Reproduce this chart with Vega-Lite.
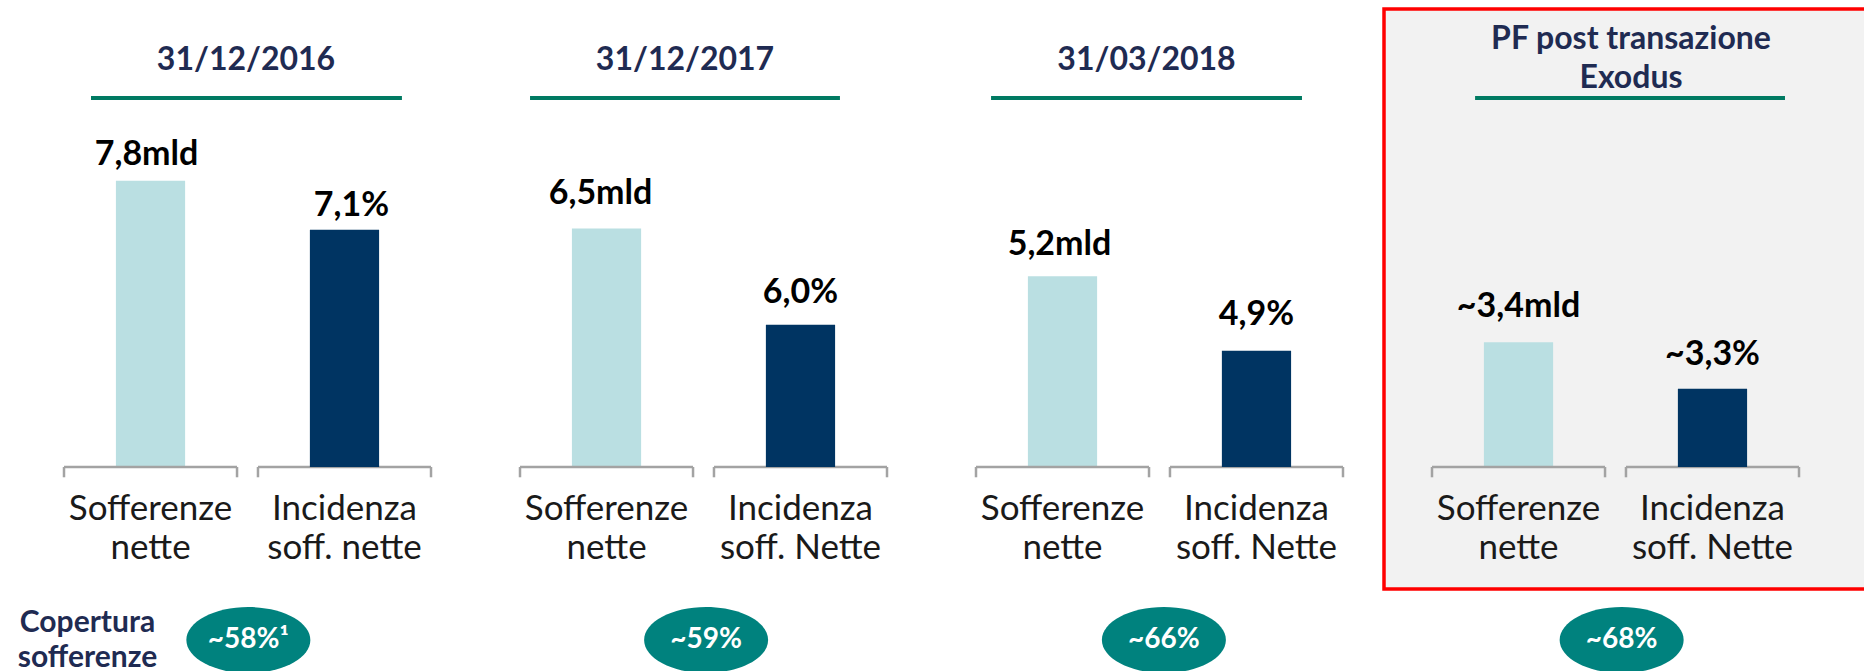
{
  "$schema": "https://vega.github.io/schema/vega-lite/v6.json",
  "background": "white",
  "padding": {"left": 15, "top": 7, "right": -4, "bottom": 0},
  "config": {
    "view": {"stroke": null},
    "font": "Lato",
    "concat": {"spacing": 0},
    "axisX": {"domain": false, "ticks": false, "tickSize": 0, "grid": false, "labelAngle": 0, "labelFont": "Lato", "labelFontSize": 35, "labelColor": "#1A1A1A", "labelExpr": "split(datum.label, '|')", "labelLineHeight": 39, "labelBaseline": "top", "labelPadding": 24, "labelLimit": 400, "offset": -122},
    "title": {"font": "Lato", "fontSize": 32, "fontWeight": "bold", "color": "#1F2B52", "anchor": "middle", "frame": "group", "baseline": "middle", "offset": -68, "lineHeight": 39}
  },
  "datasets": {
    "bars": [
      {"panel": "2016", "cat": "Sofferenze|nette", "m": "S", "value": 7.8, "label": "7,8mld"},
      {"panel": "2016", "cat": "Incidenza|soff. nette", "m": "I", "value": 7.1, "label": "7,1%"},
      {"panel": "2017", "cat": "Sofferenze|nette", "m": "S", "value": 6.5, "label": "6,5mld"},
      {"panel": "2017", "cat": "Incidenza|soff. Nette", "m": "I", "value": 6.0, "label": "6,0%"},
      {"panel": "2018", "cat": "Sofferenze|nette", "m": "S", "value": 5.2, "label": "5,2mld"},
      {"panel": "2018", "cat": "Incidenza|soff. Nette", "m": "I", "value": 4.9, "label": "4,9%"},
      {"panel": "PF", "cat": "Sofferenze|nette", "m": "S", "value": 3.4, "label": "~3,4mld"},
      {"panel": "PF", "cat": "Incidenza|soff. Nette", "m": "I", "value": 3.3, "label": "~3,3%"}
    ],
    "cov": [
      {"panel": "2016", "value": 58, "label": "~58%¹"},
      {"panel": "2017", "value": 59, "label": "~59%"},
      {"panel": "2018", "value": 66, "label": "~66%"},
      {"panel": "PF", "value": 68, "label": "~68%"}
    ]
  },
  "bounds": "full",
  "spacing": 15,
  "vconcat": [
    {
      "bounds": "flush",
      "spacing": 0,
      "hconcat": [
        {
          "width": 456, "height": 580,
          "title": {"text": "31/12/2016", "dx": 3},
          "data": {"name": "bars"},
          "transform": [{"filter": "datum.panel == '2016'"}],
          "encoding": {
            "x": {"field": "cat", "type": "nominal", "title": null,
              "scale": {"domain": ["Sofferenze|nette", "Incidenza|soff. nette"], "paddingInner": 0.108, "paddingOuter": 0.2294, "align": 0.5506}}
          },
          "layer": [
            {"layer": [
              {"transform": [{"filter": "datum.m == 'S'"}], "mark": {"type": "bar", "color": "#BADFE2", "width": {"band": 0.4}},
               "encoding": {"y": {"field": "value", "type": "quantitative", "axis": null, "scale": {"domain": [-3.324, 12.48], "nice": false, "zero": false}}, "y2": {"datum": 0}}},
              {"transform": [{"filter": "datum.m == 'S'"}], "mark": {"type": "text", "baseline": "alphabetic", "dy": -16, "dx": -4, "font": "Lato", "fontSize": 34, "fontWeight": "bold", "color": "#000000"},
               "encoding": {"y": {"field": "value", "type": "quantitative", "axis": null}, "text": {"field": "label"}}},
              {"mark": {"type": "rule", "color": "#A3A3A3", "strokeWidth": 2.5},
               "encoding": {"x": {"field": "cat", "type": "nominal", "bandPosition": 0, "title": null}, "x2": {"field": "cat", "bandPosition": 1, "title": null}, "y": {"datum": 0, "axis": null}}},
              {"mark": {"type": "rule", "color": "#A3A3A3", "strokeWidth": 2.5},
               "encoding": {"x": {"field": "cat", "type": "nominal", "bandPosition": 0, "title": null}, "y": {"datum": 0, "axis": null}, "y2": {"datum": -0.28}}},
              {"mark": {"type": "rule", "color": "#A3A3A3", "strokeWidth": 2.5},
               "encoding": {"x": {"field": "cat", "type": "nominal", "bandPosition": 1, "title": null}, "y": {"datum": 0, "axis": null}, "y2": {"datum": -0.28}}},
              {"transform": [{"aggregate": [{"op": "max", "field": "cat", "as": "a"}, {"op": "min", "field": "cat", "as": "b"}]}],
               "mark": {"type": "rule", "color": "#007A62", "strokeWidth": 4},
               "encoding": {"x": {"field": "a", "type": "nominal", "bandPosition": 0.156, "title": null}, "x2": {"field": "b", "bandPosition": 0.832, "title": null}, "y": {"datum": 10.054, "axis": null}}}
            ]},
            {"layer": [
              {"transform": [{"filter": "datum.m == 'I'"}], "mark": {"type": "bar", "color": "#003462", "width": {"band": 0.4}},
               "encoding": {"y": {"field": "value", "type": "quantitative", "axis": null, "scale": {"domain": [-3.653, 13.713], "nice": false, "zero": false}}, "y2": {"datum": 0}}},
              {"transform": [{"filter": "datum.m == 'I'"}], "mark": {"type": "text", "baseline": "alphabetic", "dy": -14, "dx": 7, "font": "Lato", "fontSize": 34, "fontWeight": "bold", "color": "#000000"},
               "encoding": {"y": {"field": "value", "type": "quantitative", "axis": null}, "text": {"field": "label"}}}
            ]}
          ],
          "resolve": {"scale": {"y": "independent"}}
        },
        {
          "width": 456, "height": 580,
          "title": {"text": "31/12/2017", "dx": -14},
          "data": {"name": "bars"},
          "transform": [{"filter": "datum.panel == '2017'"}],
          "encoding": {
            "x": {"field": "cat", "type": "nominal", "title": null,
              "scale": {"domain": ["Sofferenze|nette", "Incidenza|soff. Nette"], "paddingInner": 0.108, "paddingOuter": 0.2294, "align": 0.5506}}
          },
          "layer": [
            {"layer": [
              {"transform": [{"filter": "datum.m == 'S'"}], "mark": {"type": "bar", "color": "#BADFE2", "width": {"band": 0.4}},
               "encoding": {"y": {"field": "value", "type": "quantitative", "axis": null, "scale": {"domain": [-3.324, 12.48], "nice": false, "zero": false}}, "y2": {"datum": 0}}},
              {"transform": [{"filter": "datum.m == 'S'"}], "mark": {"type": "text", "baseline": "alphabetic", "dy": -24, "dx": -6, "font": "Lato", "fontSize": 34, "fontWeight": "bold", "color": "#000000"},
               "encoding": {"y": {"field": "value", "type": "quantitative", "axis": null}, "text": {"field": "label"}}},
              {"mark": {"type": "rule", "color": "#A3A3A3", "strokeWidth": 2.5},
               "encoding": {"x": {"field": "cat", "type": "nominal", "bandPosition": 0, "title": null}, "x2": {"field": "cat", "bandPosition": 1, "title": null}, "y": {"datum": 0, "axis": null}}},
              {"mark": {"type": "rule", "color": "#A3A3A3", "strokeWidth": 2.5},
               "encoding": {"x": {"field": "cat", "type": "nominal", "bandPosition": 0, "title": null}, "y": {"datum": 0, "axis": null}, "y2": {"datum": -0.28}}},
              {"mark": {"type": "rule", "color": "#A3A3A3", "strokeWidth": 2.5},
               "encoding": {"x": {"field": "cat", "type": "nominal", "bandPosition": 1, "title": null}, "y": {"datum": 0, "axis": null}, "y2": {"datum": -0.28}}},
              {"transform": [{"aggregate": [{"op": "max", "field": "cat", "as": "a"}, {"op": "min", "field": "cat", "as": "b"}]}],
               "mark": {"type": "rule", "color": "#007A62", "strokeWidth": 4},
               "encoding": {"x": {"field": "a", "type": "nominal", "bandPosition": 0.058, "title": null}, "x2": {"field": "b", "bandPosition": 0.728, "title": null}, "y": {"datum": 10.054, "axis": null}}}
            ]},
            {"layer": [
              {"transform": [{"filter": "datum.m == 'I'"}], "mark": {"type": "bar", "color": "#003462", "width": {"band": 0.4}},
               "encoding": {"y": {"field": "value", "type": "quantitative", "axis": null, "scale": {"domain": [-5.148, 19.325], "nice": false, "zero": false}}, "y2": {"datum": 0}}},
              {"transform": [{"filter": "datum.m == 'I'"}], "mark": {"type": "text", "baseline": "alphabetic", "dy": -22, "font": "Lato", "fontSize": 34, "fontWeight": "bold", "color": "#000000"},
               "encoding": {"y": {"field": "value", "type": "quantitative", "axis": null}, "text": {"field": "label"}}}
            ]}
          ],
          "resolve": {"scale": {"y": "independent"}}
        },
        {
          "width": 457, "height": 580,
          "title": {"text": "31/03/2018", "dx": -9},
          "data": {"name": "bars"},
          "transform": [{"filter": "datum.panel == '2018'"}],
          "encoding": {
            "x": {"field": "cat", "type": "nominal", "title": null,
              "scale": {"domain": ["Sofferenze|nette", "Incidenza|soff. Nette"], "paddingInner": 0.108, "paddingOuter": 0.232, "align": 0.5444}}
          },
          "layer": [
            {"layer": [
              {"transform": [{"filter": "datum.m == 'S'"}], "mark": {"type": "bar", "color": "#BADFE2", "width": {"band": 0.4}},
               "encoding": {"y": {"field": "value", "type": "quantitative", "axis": null, "scale": {"domain": [-3.324, 12.48], "nice": false, "zero": false}}, "y2": {"datum": 0}}},
              {"transform": [{"filter": "datum.m == 'S'"}], "mark": {"type": "text", "baseline": "alphabetic", "dy": -21, "dx": -3, "font": "Lato", "fontSize": 34, "fontWeight": "bold", "color": "#000000"},
               "encoding": {"y": {"field": "value", "type": "quantitative", "axis": null}, "text": {"field": "label"}}},
              {"mark": {"type": "rule", "color": "#A3A3A3", "strokeWidth": 2.5},
               "encoding": {"x": {"field": "cat", "type": "nominal", "bandPosition": 0, "title": null}, "x2": {"field": "cat", "bandPosition": 1, "title": null}, "y": {"datum": 0, "axis": null}}},
              {"mark": {"type": "rule", "color": "#A3A3A3", "strokeWidth": 2.5},
               "encoding": {"x": {"field": "cat", "type": "nominal", "bandPosition": 0, "title": null}, "y": {"datum": 0, "axis": null}, "y2": {"datum": -0.28}}},
              {"mark": {"type": "rule", "color": "#A3A3A3", "strokeWidth": 2.5},
               "encoding": {"x": {"field": "cat", "type": "nominal", "bandPosition": 1, "title": null}, "y": {"datum": 0, "axis": null}, "y2": {"datum": -0.28}}},
              {"transform": [{"aggregate": [{"op": "max", "field": "cat", "as": "a"}, {"op": "min", "field": "cat", "as": "b"}]}],
               "mark": {"type": "rule", "color": "#007A62", "strokeWidth": 4},
               "encoding": {"x": {"field": "a", "type": "nominal", "bandPosition": 0.087, "title": null}, "x2": {"field": "b", "bandPosition": 0.763, "title": null}, "y": {"datum": 10.054, "axis": null}}}
            ]},
            {"layer": [
              {"transform": [{"filter": "datum.m == 'I'"}], "mark": {"type": "bar", "color": "#003462", "width": {"band": 0.4}},
               "encoding": {"y": {"field": "value", "type": "quantitative", "axis": null, "scale": {"domain": [-5.148, 19.325], "nice": false, "zero": false}}, "y2": {"datum": 0}}},
              {"transform": [{"filter": "datum.m == 'I'"}], "mark": {"type": "text", "baseline": "alphabetic", "dy": -26, "font": "Lato", "fontSize": 34, "fontWeight": "bold", "color": "#000000"},
               "encoding": {"y": {"field": "value", "type": "quantitative", "axis": null}, "text": {"field": "label"}}}
            ]}
          ],
          "resolve": {"scale": {"y": "independent"}}
        },
        {
          "width": 482, "height": 580,
          "view": {"fill": "#F2F2F2", "stroke": "#FF0000", "strokeWidth": 3.5},
          "title": {"text": ["PF post transazione", "Exodus"], "dx": 6, "offset": -86},
          "data": {"name": "bars"},
          "transform": [{"filter": "datum.panel == 'PF'"}],
          "encoding": {
            "x": {"field": "cat", "type": "nominal", "title": null,
              "scale": {"domain": ["Sofferenze|nette", "Incidenza|soff. Nette"], "paddingInner": 0.108, "paddingOuter": 0.2964, "align": 0.4174}}
          },
          "layer": [
            {"layer": [
              {"transform": [{"filter": "datum.m == 'S'"}], "mark": {"type": "bar", "color": "#BADFE2", "width": {"band": 0.4}},
               "encoding": {"y": {"field": "value", "type": "quantitative", "axis": null, "scale": {"domain": [-3.324, 12.48], "nice": false, "zero": false}}, "y2": {"datum": 0}}},
              {"transform": [{"filter": "datum.m == 'S'"}], "mark": {"type": "text", "baseline": "alphabetic", "dy": -25, "font": "Lato", "fontSize": 34, "fontWeight": "bold", "color": "#000000"},
               "encoding": {"y": {"field": "value", "type": "quantitative", "axis": null}, "text": {"field": "label"}}},
              {"mark": {"type": "rule", "color": "#A3A3A3", "strokeWidth": 2.5},
               "encoding": {"x": {"field": "cat", "type": "nominal", "bandPosition": 0, "title": null}, "x2": {"field": "cat", "bandPosition": 1, "title": null}, "y": {"datum": 0, "axis": null}}},
              {"mark": {"type": "rule", "color": "#A3A3A3", "strokeWidth": 2.5},
               "encoding": {"x": {"field": "cat", "type": "nominal", "bandPosition": 0, "title": null}, "y": {"datum": 0, "axis": null}, "y2": {"datum": -0.28}}},
              {"mark": {"type": "rule", "color": "#A3A3A3", "strokeWidth": 2.5},
               "encoding": {"x": {"field": "cat", "type": "nominal", "bandPosition": 1, "title": null}, "y": {"datum": 0, "axis": null}, "y2": {"datum": -0.28}}},
              {"transform": [{"aggregate": [{"op": "max", "field": "cat", "as": "a"}, {"op": "min", "field": "cat", "as": "b"}]}],
               "mark": {"type": "rule", "color": "#007A62", "strokeWidth": 4},
               "encoding": {"x": {"field": "a", "type": "nominal", "bandPosition": 0.249, "title": null}, "x2": {"field": "b", "bandPosition": 0.919, "title": null}, "y": {"datum": 10.054, "axis": null}}}
            ]},
            {"layer": [
              {"transform": [{"filter": "datum.m == 'I'"}], "mark": {"type": "bar", "color": "#003462", "width": {"band": 0.4}},
               "encoding": {"y": {"field": "value", "type": "quantitative", "axis": null, "scale": {"domain": [-5.148, 19.325], "nice": false, "zero": false}}, "y2": {"datum": 0}}},
              {"transform": [{"filter": "datum.m == 'I'"}], "mark": {"type": "text", "baseline": "alphabetic", "dy": -24, "font": "Lato", "fontSize": 34, "fontWeight": "bold", "color": "#000000"},
               "encoding": {"y": {"field": "value", "type": "quantitative", "axis": null}, "text": {"field": "label"}}}
            ]}
          ],
          "resolve": {"scale": {"y": "independent"}}
        }
      ]
    },
    {
      "bounds": "flush",
      "spacing": 0,
      "hconcat": [
        {
          "width": 145, "height": 68,
          "data": {"values": [{"t": "Copertura|sofferenze"}]},
          "mark": {"type": "text", "lineBreak": "|", "font": "Lato", "fontSize": 30, "fontWeight": "bold", "color": "#1F2B52", "lineHeight": 35, "baseline": "middle", "align": "center", "dy": -17},
          "encoding": {"text": {"field": "t"}}
        },
        {
          "width": 1550, "height": 68,
          "data": {"name": "cov"},
          "encoding": {"x": {"field": "panel", "type": "nominal", "axis": null, "scale": {"type": "point", "padding": 0.193}}},
          "layer": [
            {"mark": {"type": "point", "shape": "M-1,0A1,0.532,0,1,1,1,0A1,0.532,0,1,1,-1,0Z", "size": 15376, "filled": true, "color": "#00827E", "opacity": 1}},
            {"mark": {"type": "text", "color": "#FFFFFF", "font": "Lato", "fontSize": 28, "fontWeight": "bold", "baseline": "middle", "align": "center"},
             "encoding": {"text": {"field": "label"}}}
          ]
        }
      ]
    }
  ]
}
